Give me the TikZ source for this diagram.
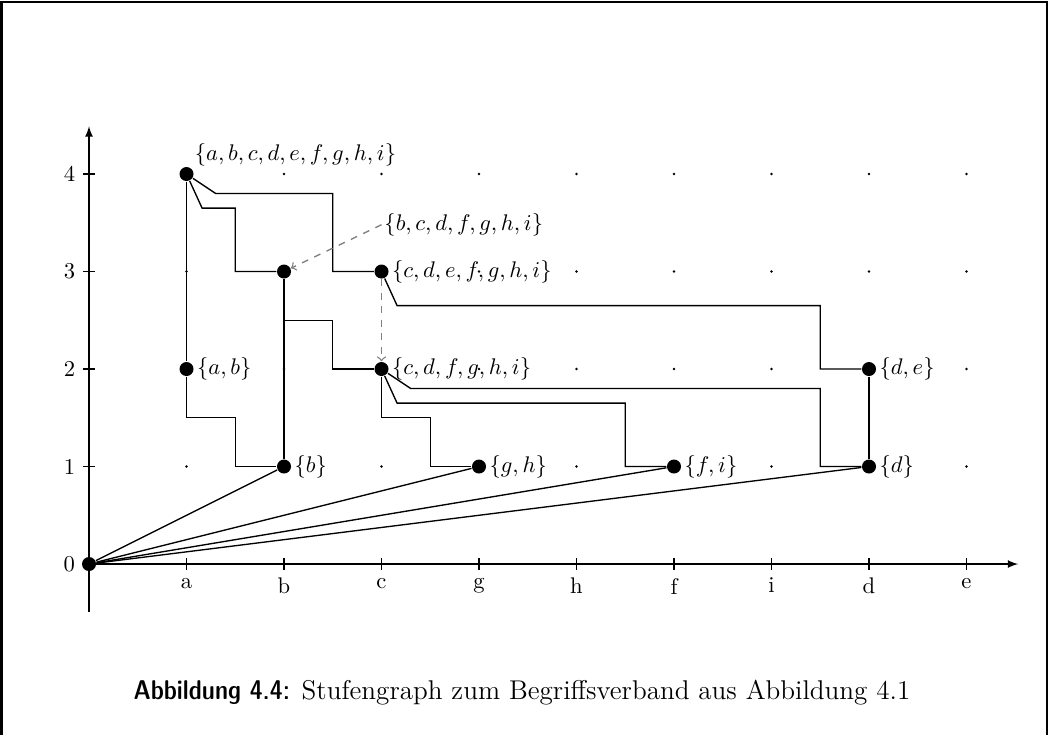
\documentclass[tikz,border=0pt]{standalone}
\usepackage{amsmath, amssymb}
\usepackage{tikz}
\usetikzlibrary{arrows.meta, calc}

\tikzset{
    concept/.style={circle, fill=black, inner sep=0pt, minimum size=6.2pt},
    extent/.style={inner sep=1pt},
    hint/.style={gray, dashed, -to}
}

\begin{document}
\begin{tikzpicture}[x=1.516cm, y=1.516cm, semithick]
    \useasboundingbox (-0.913,-1.744) rectangle (9.836,5.785);
    % Frame (bottom edge lies below the page)
    \draw[line width=1.2pt] (-0.897,-2.5) rectangle (9.831,5.764);

    % Axes
    \draw[-latex] (0,0) -- (9.53,0);
    \draw[-latex] (0,-0.49) -- (0,4.49);
    \node[left] (y0) at (-0.06,0) {0};
    \foreach \y in {1,2,3,4}
        \draw (-0.06,\y) -- (0.06,\y) node[left, xshift=-0.18cm] (y\y) {\y};
    \foreach \x/\t in {1/a,2/b,3/c,4/g,5/h,6/f,7/i,8/d,9/e}
        \draw (\x,0.06) -- (\x,-0.06) node[below] (x\x) {\t};

    % Grid dots
    \foreach \x in {1,...,9}
        \foreach \y in {1,...,4}
            \fill (\x,\y) circle (0.6pt);

    % Concepts
    \node[concept] (bot) at (0,0) {};
    \node[concept] (all) at (1,4) {};
    \node[concept] (ab)  at (1,2) {};
    \node[concept] (bcd) at (2,3) {};
    \node[concept] (cde) at (3,3) {};
    \node[concept] (cdf) at (3,2) {};
    \node[concept] (b)   at (2,1) {};
    \node[concept] (gh)  at (4,1) {};
    \node[concept] (fi)  at (6,1) {};
    \node[concept] (de)  at (8,2) {};
    \node[concept] (d)   at (8,1) {};

    % Extents
    \node[extent, anchor=south west] (lall) at (all.north east) {$\{a,b,c,d,e,f,g,h,i\}$};
    \node[extent, anchor=west] (lab)  at (ab.east)  {$\{a,b\}$};
    \node[extent, anchor=west] (lbcd) at (3.0,3.48) {$\{b,c,d,f,g,h,i\}$};
    \node[extent, anchor=west] (lcde) at (cde.east) {$\{c,d,e,f,g,h,i\}$};
    \node[extent, anchor=west] (lcdf) at (cdf.east) {$\{c,d,f,g,h,i\}$};
    \node[extent, anchor=west] (lb)   at (b.east)   {$\{b\}$};
    \node[extent, anchor=west] (lgh)  at (gh.east)  {$\{g,h\}$};
    \node[extent, anchor=west] (lfi)  at (fi.east)  {$\{f,i\}$};
    \node[extent, anchor=west] (lde)  at (de.east)  {$\{d,e\}$};
    \node[extent, anchor=west] (ld)   at (d.east)   {$\{d\}$};

    % Steps
    \draw (all) -- (ab);
    \draw (all) -- (1.16,3.65) -| (1.5,3) -- (bcd);
    \draw (all) -- (1.3,3.8) -| (2.5,3) -- (cde);
    \draw (ab) -- (1,1.5) -| (1.5,1) -- (b);
    \draw (bcd) -- (b);
    \draw (bcd) -- (2,2.5) -| (2.5,2) -- (cdf);
    \draw (cde) -- (3.16,2.65) -| (7.5,2) -- (de);
    \draw (cdf) -- (3,1.5) -| (3.5,1) -- (gh);
    \draw (cdf) -- (3.16,1.65) -| (5.5,1) -- (fi);
    \draw (cdf) -- (3.3,1.8) -| (7.5,1) -- (d);
    \draw (de) -- (d);
    \foreach \n in {b,gh,fi,d}
        \draw (bot) -- (\n);

    % Hints
    \draw[hint] (lbcd.west) -- (bcd);
    \draw[hint] (cde) -- (cdf);

    % Caption
    \node[font=\large] (caption) at (4.44,-1.323) {{\fontseries{sbc}\sffamily Abbildung 4.4:} Stufengraph zum Begriffsverband aus Abbildung 4.1};
\end{tikzpicture}
\end{document}
